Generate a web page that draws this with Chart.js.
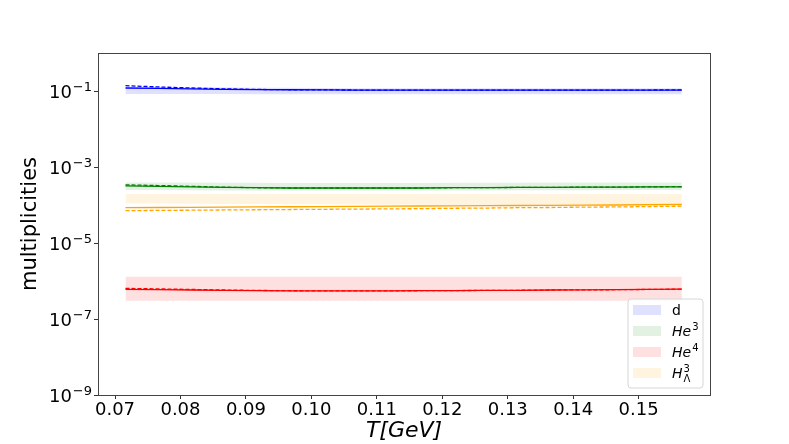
<!DOCTYPE html>
<html>
<head>
<meta charset="utf-8">
<script src="https://cdn.jsdelivr.net/npm/chart.js@4/dist/chart.umd.min.js"></script>
<style>
  html, body { margin: 0; padding: 0; background: #fff; }
</style>
</head>
<body>
<canvas id="grafico" width="789" height="444"></canvas>
<script>
// temperaturas (GeV)
const temps = [0.0716, 0.0766, 0.0816, 0.0866, 0.0916, 0.0966, 0.1016, 0.1066, 0.1116,
               0.1166, 0.1216, 0.1266, 0.1316, 0.1366, 0.1416, 0.1466, 0.1516, 0.1566];

// deuteron
const dSolid = [0.120, 0.117, 0.114, 0.111, 0.109, 0.108, 0.107, 0.106, 0.106, 0.105, 0.105, 0.105, 0.105, 0.105, 0.105, 0.105, 0.106, 0.106];
const dDash  = [0.138, 0.128, 0.120, 0.114, 0.110, 0.108, 0.107, 0.106, 0.106, 0.105, 0.105, 0.105, 0.105, 0.105, 0.105, 0.105, 0.106, 0.107];
const dHi    = [0.130, 0.128, 0.126, 0.124, 0.122, 0.121, 0.120, 0.119, 0.119, 0.118, 0.118, 0.118, 0.118, 0.118, 0.118, 0.118, 0.118, 0.118];
const dLo    = [0.083, 0.083, 0.083, 0.083, 0.082, 0.082, 0.082, 0.082, 0.082, 0.082, 0.082, 0.082, 0.082, 0.082, 0.082, 0.082, 0.082, 0.082];

// He3
const he3Solid = [3.2e-4, 3.1e-4, 3.0e-4, 2.9e-4, 2.85e-4, 2.8e-4, 2.8e-4, 2.8e-4, 2.8e-4, 2.8e-4, 2.85e-4, 2.85e-4, 2.9e-4, 2.9e-4, 2.95e-4, 2.95e-4, 3.0e-4, 3.0e-4];
const he3Dash  = [3.4e-4, 3.25e-4, 3.1e-4, 2.95e-4, 2.85e-4, 2.8e-4, 2.8e-4, 2.8e-4, 2.8e-4, 2.8e-4, 2.85e-4, 2.85e-4, 2.9e-4, 2.9e-4, 2.95e-4, 2.95e-4, 3.0e-4, 3.05e-4];
const he3Hi    = [3.9e-4, 3.9e-4, 3.9e-4, 3.85e-4, 3.85e-4, 3.8e-4, 3.8e-4, 3.8e-4, 3.8e-4, 3.8e-4, 3.85e-4, 3.85e-4, 3.85e-4, 3.9e-4, 3.9e-4, 3.9e-4, 3.9e-4, 3.9e-4];
const he3Lo    = [2.5e-4, 2.5e-4, 2.45e-4, 2.4e-4, 2.4e-4, 2.4e-4, 2.4e-4, 2.4e-4, 2.4e-4, 2.4e-4, 2.4e-4, 2.4e-4, 2.45e-4, 2.45e-4, 2.45e-4, 2.5e-4, 2.5e-4, 2.5e-4];

// He4
const he4Solid = [6.0e-7, 5.9e-7, 5.8e-7, 5.7e-7, 5.6e-7, 5.5e-7, 5.5e-7, 5.5e-7, 5.5e-7, 5.55e-7, 5.6e-7, 5.65e-7, 5.7e-7, 5.8e-7, 5.85e-7, 5.9e-7, 6.0e-7, 6.1e-7];
const he4Dash  = [6.4e-7, 6.2e-7, 6.0e-7, 5.8e-7, 5.65e-7, 5.55e-7, 5.5e-7, 5.5e-7, 5.5e-7, 5.55e-7, 5.6e-7, 5.65e-7, 5.7e-7, 5.8e-7, 5.85e-7, 5.9e-7, 6.0e-7, 6.1e-7];
const he4Hi    = [1.3e-6, 1.3e-6, 1.3e-6, 1.3e-6, 1.3e-6, 1.3e-6, 1.3e-6, 1.3e-6, 1.3e-6, 1.3e-6, 1.3e-6, 1.3e-6, 1.3e-6, 1.3e-6, 1.3e-6, 1.3e-6, 1.3e-6, 1.3e-6];
const he4Lo    = [3.0e-7, 3.0e-7, 3.0e-7, 3.0e-7, 3.0e-7, 3.0e-7, 3.0e-7, 3.0e-7, 3.0e-7, 3.0e-7, 3.0e-7, 3.0e-7, 3.0e-7, 3.0e-7, 3.0e-7, 3.0e-7, 3.0e-7, 3.0e-7];

// hipertritón
const hlSolid = [8.5e-5, 8.6e-5, 8.7e-5, 8.8e-5, 8.9e-5, 9.0e-5, 9.1e-5, 9.2e-5, 9.3e-5, 9.4e-5, 9.5e-5, 9.6e-5, 9.7e-5, 9.8e-5, 9.9e-5, 1.0e-4, 1.02e-4, 1.04e-4];
const hlDash  = [7.1e-5, 7.2e-5, 7.3e-5, 7.4e-5, 7.5e-5, 7.6e-5, 7.7e-5, 7.8e-5, 7.9e-5, 8.0e-5, 8.2e-5, 8.3e-5, 8.5e-5, 8.6e-5, 8.8e-5, 8.9e-5, 9.1e-5, 9.3e-5];
const hlHi    = [1.95e-4, 1.95e-4, 1.95e-4, 1.95e-4, 1.95e-4, 1.95e-4, 1.95e-4, 1.95e-4, 1.95e-4, 1.95e-4, 1.95e-4, 1.95e-4, 1.95e-4, 1.95e-4, 1.95e-4, 1.95e-4, 1.95e-4, 1.95e-4];
const hlLo    = [1.1e-4, 1.09e-4, 1.08e-4, 1.07e-4, 1.06e-4, 1.05e-4, 1.04e-4, 1.03e-4, 1.02e-4, 1.01e-4, 1.0e-4, 9.9e-5, 9.8e-5, 9.7e-5, 9.6e-5, 9.5e-5, 9.4e-5, 9.3e-5];

const xTicks = [0.07, 0.08, 0.09, 0.10, 0.11, 0.12, 0.13, 0.14, 0.15];
const yTicks = [1e-9, 1e-7, 1e-5, 1e-3, 1e-1];

const especies = [
  { nombre: "d",   color: "rgb(0,0,255)",   banda: "rgba(0,0,255,0.12)",   hi: dHi,   lo: dLo,   solid: dSolid,   dash: dDash },
  { nombre: "He3", color: "rgb(0,128,0)",   banda: "rgba(0,128,0,0.11)",   hi: he3Hi, lo: he3Lo, solid: he3Solid, dash: he3Dash },
  { nombre: "He4", color: "rgb(255,0,0)",   banda: "rgba(255,0,0,0.12)",   hi: he4Hi, lo: he4Lo, solid: he4Solid, dash: he4Dash },
  { nombre: "H3L", color: "rgb(255,165,0)", banda: "rgba(255,165,0,0.12)", hi: hlHi,  lo: hlLo,  solid: hlSolid,  dash: hlDash }
];

const pts = arr => arr.map((v, i) => ({ x: temps[i], y: v }));

const datasets = [];
especies.forEach(e => {
  datasets.push({ data: pts(e.hi), borderWidth: 0, backgroundColor: e.banda, fill: "+1", pointRadius: 0, order: 5 });
  datasets.push({ data: pts(e.lo), borderWidth: 0, fill: false, pointRadius: 0, order: 5 });
});
especies.forEach(e => {
  datasets.push({ data: pts(e.solid), borderColor: e.color, borderWidth: 1.3, fill: false, pointRadius: 0, order: 1 });
  datasets.push({ data: pts(e.dash), borderColor: e.color, borderWidth: 1.3, borderDash: [4, 2], fill: false, pointRadius: 0, order: 1 });
});

// marco, etiquetas 10^n y leyenda a mano (estilo matplotlib)
const extras = {
  id: "extras",
  afterDatasetsDraw(chart) {
    const ctx = chart.ctx, a = chart.chartArea;
    ctx.save();
    ctx.strokeStyle = "#444";
    ctx.lineWidth = 1;
    ctx.strokeRect(Math.round(a.left) + 0.5, Math.round(a.top) + 0.5, Math.round(a.right - a.left), Math.round(a.bottom - a.top));

    // etiquetas del eje y con exponente
    const ys = chart.scales.y;
    ctx.fillStyle = "#000";
    ctx.textBaseline = "alphabetic";
    ctx.textAlign = "left";
    yTicks.forEach(v => {
      const py = ys.getPixelForValue(v);
      const exp = "\u2212" + String(-Math.round(Math.log10(v)));
      ctx.font = "13px 'DejaVu Sans'";
      const we = ctx.measureText(exp).width;
      ctx.font = "18px 'DejaVu Sans'";
      const wb = ctx.measureText("10").width;
      const x0 = 92 - we - wb - 1;
      ctx.fillText("10", x0, py + 7);
      ctx.font = "13px 'DejaVu Sans'";
      ctx.fillText(exp, x0 + wb + 1, py - 0.5);
    });

    // leyenda
    const bx = 628, by = 299, bw = 75, bh = 89, r = 3;
    ctx.beginPath();
    ctx.moveTo(bx + r, by);
    ctx.arcTo(bx + bw, by, bx + bw, by + bh, r);
    ctx.arcTo(bx + bw, by + bh, bx, by + bh, r);
    ctx.arcTo(bx, by + bh, bx, by, r);
    ctx.arcTo(bx, by, bx + bw, by, r);
    ctx.closePath();
    ctx.fillStyle = "rgba(255,255,255,0.8)";
    ctx.fill();
    ctx.strokeStyle = "#d6d6d6";
    ctx.stroke();

    const filas = [310, 331, 352, 373];
    especies.forEach((e, i) => {
      const cy = filas[i];
      ctx.fillStyle = e.banda;
      ctx.fillRect(633, cy - 5, 28, 10);
      ctx.fillStyle = "#000";
      const base = cy + 5;
      let x = 672;
      if (e.nombre === "d") {
        ctx.font = "14px 'DejaVu Sans'";
        ctx.fillText("d", x, base);
      } else {
        const letras = e.nombre === "H3L" ? "H" : "He";
        ctx.font = "italic 14px 'DejaVu Sans'";
        ctx.fillText(letras, x, base);
        x += ctx.measureText(letras).width + 1;
        ctx.font = "10px 'DejaVu Sans'";
        const n = e.nombre === "He4" ? "4" : "3";
        ctx.fillText(n, x, base - 6);
        if (e.nombre === "H3L") {
          ctx.fillText("\u039B", x, base + 4);
        }
      }
    });
    ctx.restore();
  }
};

new Chart(document.getElementById("grafico").getContext("2d"), {
  type: "line",
  data: { datasets: datasets },
  options: {
    responsive: false,
    animation: false,
    layout: { padding: { top: 53, right: 79, left: 0, bottom: 0 } },
    plugins: { legend: { display: false }, tooltip: { enabled: false } },
    scales: {
      x: {
        type: "linear",
        min: 0.0674,
        max: 0.1609,
        afterBuildTicks: s => { s.ticks = xTicks.map(v => ({ value: v })); },
        afterFit: s => { s.height = 49; },
        ticks: {
          autoSkip: false, maxRotation: 0, padding: 1, color: "#000",
          font: { family: "DejaVu Sans", size: 18 },
          callback: v => Number(v).toFixed(2)
        },
        grid: { drawOnChartArea: false, tickLength: 4, color: "#333" },
        border: { display: false },
        title: {
          display: true, text: "T[GeV]", color: "#000",
          font: { family: "DejaVu Sans", size: 22, style: "italic" },
          padding: { top: 0, bottom: 0 }
        }
      },
      y: {
        type: "logarithmic",
        min: 1e-9,
        max: 1,
        afterBuildTicks: s => { s.ticks = yTicks.map(v => ({ value: v })); },
        afterFit: s => { s.width = 98; },
        ticks: {
          autoSkip: false, padding: 3, color: "#000",
          font: { family: "DejaVu Sans", size: 18 },
          callback: () => ""
        },
        grid: { drawOnChartArea: false, tickLength: 4, color: "#333" },
        border: { display: false },
        title: {
          display: true, text: "multiplicities", color: "#000",
          font: { family: "DejaVu Sans", size: 21 },
          padding: { top: 18, bottom: 0 }
        }
      }
    }
  },
  plugins: [extras]
});
</script>
</body>
</html>
